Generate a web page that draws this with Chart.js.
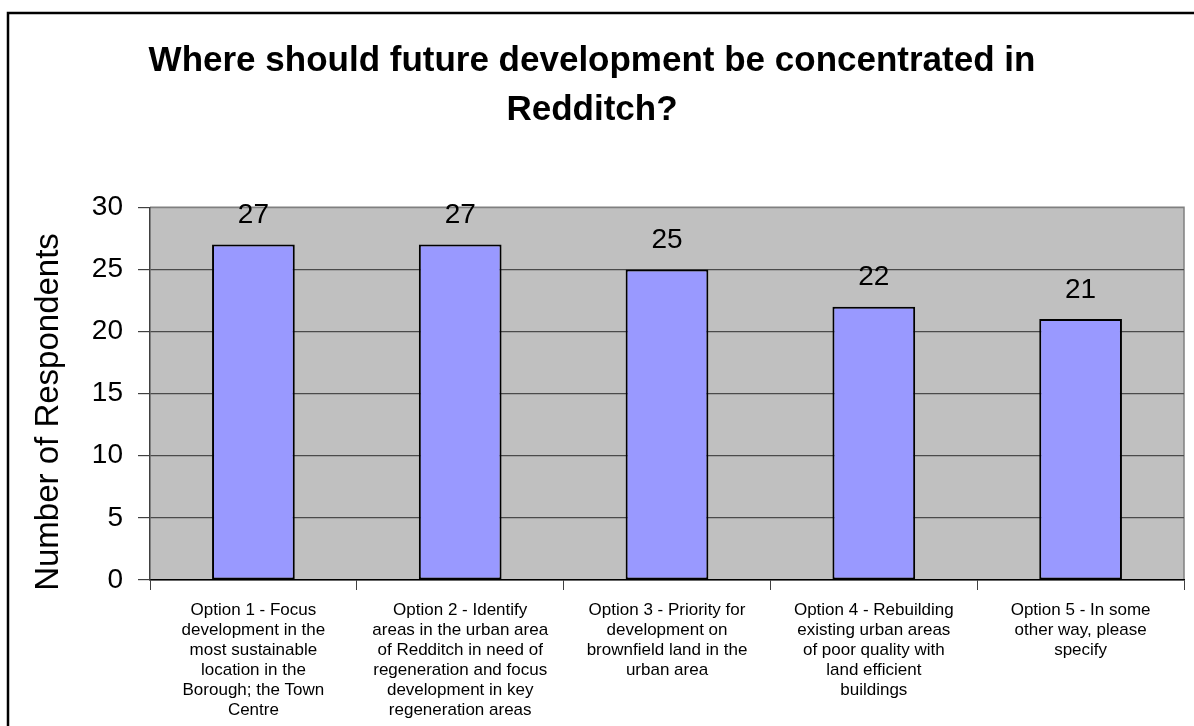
<!DOCTYPE html>
<html>
<head>
<meta charset="utf-8">
<title>Future development in Redditch</title>
<script src="https://cdn.jsdelivr.net/npm/chart.js@4/dist/chart.umd.min.js"></script>
<style>
    html, body { margin: 0; padding: 0; background: #ffffff; }
    canvas { display: block; }
</style>
</head>
<body>
<canvas id="devChart" width="1194" height="726"></canvas>
<script>
const titleLines = ['Where should future development be concentrated in', 'Redditch?'];
const yAxisTitle = 'Number of Respondents    ';

const options = [
    ['Option 1 - Focus', 'development in the', 'most sustainable', 'location in the', 'Borough; the Town', 'Centre'],
    ['Option 2 - Identify', 'areas in the urban area', 'of Redditch in need of', 'regeneration and focus', 'development in key', 'regeneration areas'],
    ['Option 3 - Priority for', 'development on', 'brownfield land in the', 'urban area'],
    ['Option 4 - Rebuilding', 'existing urban areas', 'of poor quality with', 'land efficient', 'buildings'],
    ['Option 5 - In some', 'other way, please', 'specify']
];
const respondents = [27, 27, 25, 22, 21];

const yMin = 0;
const yMax = 30;
const yStep = 5;

Chart.defaults.font.family = "'Liberation Sans', Arial, Helvetica, sans-serif";
Chart.defaults.color = '#000000';

// white page, outer frame, grey plot area with its light top/right edge
const framePlugin = {
    id: 'frame',
    beforeDraw(chart) {
        const { ctx, chartArea: a, width, height } = chart;
        ctx.save();
        ctx.fillStyle = '#ffffff';
        ctx.fillRect(0, 0, width, height);
        ctx.strokeStyle = '#000000';
        ctx.lineWidth = 2.5;
        ctx.strokeRect(8, 13, width + 20, height + 20);
        ctx.fillStyle = '#c0c0c0';
        ctx.fillRect(a.left, a.top, a.right - a.left, a.bottom - a.top);
        ctx.strokeStyle = '#808080';
        ctx.lineWidth = 1.5;
        ctx.beginPath();
        ctx.moveTo(a.left, a.top);
        ctx.lineTo(a.right, a.top);
        ctx.lineTo(a.right, a.bottom);
        ctx.stroke();
        ctx.restore();
    }
};

// numbers above each bar
const valueLabels = {
    id: 'valueLabels',
    afterDatasetsDraw(chart) {
        const { ctx } = chart;
        const meta = chart.getDatasetMeta(0);
        ctx.save();
        ctx.font = "28px 'Liberation Sans', Arial, sans-serif";
        ctx.fillStyle = '#000000';
        ctx.textAlign = 'center';
        ctx.textBaseline = 'middle';
        meta.data.forEach((bar, i) => {
            ctx.fillText(String(respondents[i]), bar.x, bar.y - 29);
        });
        ctx.restore();
    }
};

new Chart(document.getElementById('devChart').getContext('2d'), {
    type: 'bar',
    data: {
        labels: options,
        datasets: [{
            label: 'Respondents',
            data: respondents,
            backgroundColor: '#9999ff',
            borderColor: '#000000',
            borderWidth: 2,
            borderSkipped: false,
            barPercentage: 0.4,
            categoryPercentage: 1.0
        }]
    },
    options: {
        responsive: false,
        animation: false,
        devicePixelRatio: 1,
        layout: { padding: { left: 0, right: 10, top: 0, bottom: 0 } },
        plugins: {
            legend: { display: false },
            tooltip: { enabled: false },
            title: {
                display: true,
                text: titleLines,
                color: '#000000',
                font: { size: 35, weight: 'bold', lineHeight: 1.39 },
                padding: { top: 37, bottom: 73 }
            }
        },
        scales: {
            x: {
                offset: true,
                grid: {
                    offset: true,
                    drawOnChartArea: false,
                    drawTicks: true,
                    tickLength: 10,
                    tickColor: '#404040',
                    tickWidth: 1
                },
                border: { color: '#000000', width: 1.5 },
                ticks: {
                    autoSkip: false,
                    maxRotation: 0,
                    minRotation: 0,
                    padding: 10,
                    color: '#000000',
                    font: { size: 17, lineHeight: 1.18 }
                },
                afterFit(scale) { scale.height = 146; }
            },
            y: {
                min: yMin,
                max: yMax,
                grid: {
                    color: ctx => ctx.tick && ctx.tick.value === yMax ? '#808080' : '#4a4a4a',
                    lineWidth: 1.2,
                    tickLength: 12,
                    tickColor: '#404040'
                },
                border: { color: '#404040', width: 1.5 },
                ticks: {
                    stepSize: yStep,
                    padding: 15,
                    color: '#000000',
                    font: { size: 28 }
                },
                title: {
                    display: true,
                    text: yAxisTitle,
                    color: '#000000',
                    font: { size: 33, lineHeight: 1.2 },
                    padding: { top: 29, bottom: 0 }
                },
                afterFit(scale) { scale.width = 150; }
            }
        }
    },
    plugins: [framePlugin, valueLabels]
});
</script>
</body>
</html>
